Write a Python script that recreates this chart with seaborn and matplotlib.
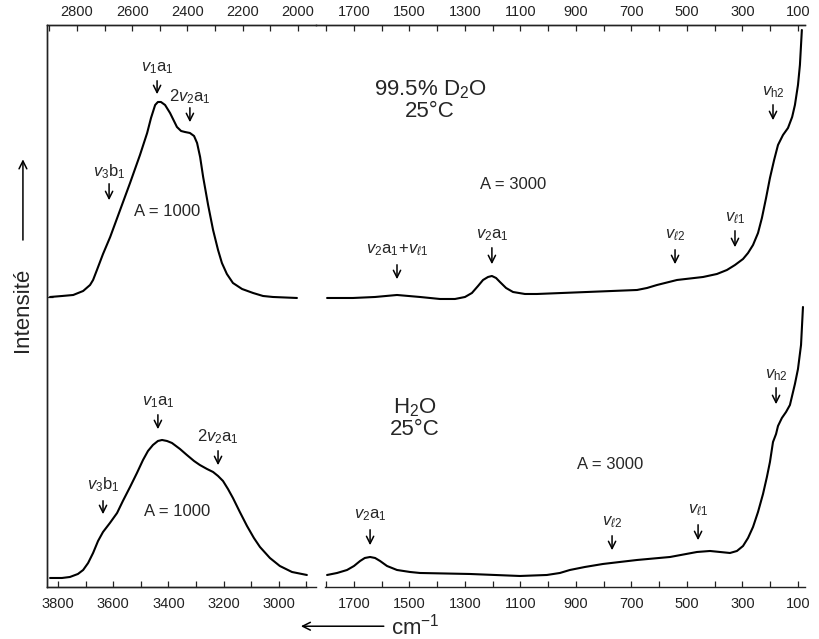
import matplotlib
matplotlib.use('Agg')
import matplotlib.pyplot as plt
import seaborn as sns

# D2O, high-frequency part (top scale, cm-1) and intensity (arb.)
d2o_hi_wn = [2898, 2854, 2814, 2778, 2753, 2742, 2728, 2706, 2680, 2644, 2608, 2572,
             2546, 2532, 2517, 2507, 2496, 2481, 2463, 2438, 2423, 2409, 2391, 2376,
             2365, 2354, 2343, 2325, 2307, 2289, 2275, 2257, 2235, 2202, 2162, 2126,
             2090, 2003]
d2o_hi_int = [290, 291, 292, 296, 302, 307, 317, 333, 350, 377, 404, 432,
              454, 469, 482, 485, 485, 482, 474, 460, 456, 455, 454, 451,
              444, 430, 410, 382, 357, 337, 324, 313, 304, 298, 294, 291,
              290, 289]

# D2O, low-frequency part
d2o_lo_wn = [1797, 1704, 1624, 1545, 1462, 1390, 1336, 1300, 1275, 1253, 1235, 1217,
             1203, 1188, 1174, 1152, 1127, 1084, 1041, 860, 680, 644, 608, 536,
             442, 392, 356, 327, 298, 280, 262, 244, 230, 215, 201, 186,
             172, 154, 136, 121, 111, 100, 93, 86]
d2o_lo_int = [289, 289, 290, 292, 290, 288, 288, 290, 294, 301, 307, 310,
              311, 309, 305, 299, 295, 293, 293, 295, 297, 299, 302, 307,
              310, 313, 317, 322, 328, 334, 342, 354, 369, 389, 409, 427,
              442, 452, 459, 470, 482, 502, 522, 557]

# H2O, high-frequency part (bottom scale)
h2o_hi_wn = [3829, 3786, 3757, 3728, 3709, 3691, 3673, 3655, 3637, 3612, 3586, 3565,
             3539, 3514, 3492, 3474, 3456, 3438, 3423, 3405, 3387, 3358, 3333, 3307,
             3286, 3260, 3238, 3220, 3202, 3184, 3166, 3141, 3115, 3090, 3068, 3032,
             2996, 2952, 2898]
h2o_hi_int = [9, 9, 10, 13, 17, 24, 34, 46, 55, 64, 74, 86,
              100, 114, 127, 136, 142, 146, 147, 146, 144, 138, 132, 126,
              122, 118, 115, 111, 106, 98, 89, 75, 61, 49, 40, 29,
              21, 15, 12]

# H2O, low-frequency part
h2o_lo_wn = [1797, 1761, 1725, 1700, 1678, 1661, 1642, 1624, 1606, 1581, 1545, 1498,
             1462, 1282, 1102, 1005, 958, 922, 868, 803, 742, 680, 561, 464,
             417, 381, 345, 320, 298, 280, 262, 244, 226, 212, 201, 190,
             179, 172, 158, 143, 129, 111, 100, 89, 82]
h2o_lo_int = [12, 14, 17, 21, 26, 29, 30, 29, 26, 21, 17, 15,
              14, 13, 11, 12, 14, 17, 20, 23, 25, 27, 30, 35,
              36, 35, 34, 36, 41, 49, 60, 75, 93, 110, 125, 145,
              153, 161, 169, 175, 182, 203, 218, 242, 280]

# band labels: (text, wavenumber, label height, arrow top, arrow bottom)
d2o_hi_bands = [(r'$v_1\mathrm{a}_1$', 2510, 519, 509, 490),
                (r'$2v_2\mathrm{a}_1$', 2391, 490, 482, 462),
                (r'$v_3\mathrm{b}_1$', 2684, 415, 406, 384)]
d2o_lo_bands = [(r'$v_2\mathrm{a}_1\!+\!v_{\ell 1}$', 1545, 337, 325, 305),
                (r'$v_2\mathrm{a}_1$', 1203, 352, 342, 320),
                (r'$v_{\ell 2}$', 543, 352, 340, 320),
                (r'$v_{\ell 1}$', 327, 369, 359, 337),
                (r'$v_{\mathrm{h}2}$', 190, 495, 485, 464)]
h2o_hi_bands = [(r'$v_1\mathrm{a}_1$', 3438, 185, 175, 155),
                (r'$2v_2\mathrm{a}_1$', 3220, 150, 139, 119),
                (r'$v_3\mathrm{b}_1$', 3637, 102, 89, 70)]
h2o_lo_bands = [(r'$v_2\mathrm{a}_1$', 1642, 72, 60, 39),
                (r'$v_{\ell 2}$', 770, 65, 54, 34),
                (r'$v_{\ell 1}$', 460, 77, 65, 44),
                (r'$v_{\mathrm{h}2}$', 179, 212, 202, 180)]

sns.set_style('ticks')
plt.rcParams['font.family'] = ['Liberation Sans', 'DejaVu Sans']
plt.rcParams['mathtext.fontset'] = 'custom'
plt.rcParams['mathtext.rm'] = 'Liberation Sans'
plt.rcParams['mathtext.it'] = 'Liberation Sans:italic'
plt.rcParams['mathtext.bf'] = 'Liberation Sans:bold'

fig = plt.figure(figsize=(8.19, 6.39), dpi=100)
ax_l = fig.add_axes([0.0574, 0.0814, 0.3284, 0.8795])
ax_r = fig.add_axes([0.3858, 0.0814, 0.5970, 0.8795])
ax_lt = ax_l.twiny()
ax_rt = ax_r.twiny()

line_kw = dict(color='black', linewidth=1.5, sort=False, estimator=None,
               solid_joinstyle='round', solid_capstyle='round')
sns.lineplot(x=h2o_hi_wn, y=h2o_hi_int, ax=ax_l, **line_kw)
sns.lineplot(x=d2o_hi_wn, y=d2o_hi_int, ax=ax_lt, **line_kw)
sns.lineplot(x=d2o_lo_wn, y=d2o_lo_int, ax=ax_r, **line_kw)
sns.lineplot(x=h2o_lo_wn, y=h2o_lo_int, ax=ax_r, **line_kw)

ax_l.set_xlim(3840, 2865)
ax_lt.set_xlim(2909, 1934)
ax_r.set_xlim(1837, 75)
ax_rt.set_xlim(1837, 75)
for a in (ax_l, ax_lt, ax_r, ax_rt):
    a.set_ylim(0, 562)

tick_kw = dict(direction='in', length=4, width=0.9, labelsize=10.5, colors='#222222')

# left panel: bottom scale 3800..2900, top scale 2900..2000
ax_l.set_xticks(range(3800, 2899, -100), minor=True)
ax_l.set_xticks(range(3800, 2899, -200))
ax_l.set_xticklabels([str(v) for v in range(3800, 2899, -200)])
ax_l.tick_params(axis='x', which='both', bottom=True, top=False, pad=7, **tick_kw)
ax_lt.set_xticks(range(2900, 1999, -100), minor=True)
ax_lt.set_xticks(range(2800, 1999, -200))
ax_lt.set_xticklabels([str(v) for v in range(2800, 1999, -200)])
ax_lt.tick_params(axis='x', which='both', top=True, bottom=False, pad=4, **tick_kw)
ax_l.set_yticks([290])
ax_l.set_yticklabels([])
ax_l.tick_params(axis='y', direction='in', length=4, width=0.9)

# right panel: both scales 1800..100
for a in (ax_r, ax_rt):
    a.set_xticks(range(1800, 99, -100), minor=True)
    a.set_xticks(range(1700, 99, -200))
    a.set_xticklabels([str(v) for v in range(1700, 99, -200)])
    a.set_yticks([])
ax_r.tick_params(axis='x', which='both', bottom=True, top=False, pad=7, **tick_kw)
ax_rt.tick_params(axis='x', which='both', top=True, bottom=False, pad=4, **tick_kw)

for a in (ax_l, ax_lt, ax_r, ax_rt):
    a.set_xlabel('')
    a.set_ylabel('')
    a.patch.set_alpha(0)
    for s in a.spines.values():
        s.set_linewidth(1.0)
        s.set_color('#222222')
for a in (ax_l, ax_lt):
    a.spines['right'].set_visible(False)
for a in (ax_r, ax_rt):
    a.spines['left'].set_visible(False)
    a.spines['right'].set_visible(False)
ax_l.spines['bottom'].set_bounds(3840, 2898)
ax_r.spines['bottom'].set_bounds(1804, 75)
ax_rt.spines['bottom'].set_visible(False)


def mark_bands(ax, bands):
    for label, wn, ty, a_top, a_bot in bands:
        ax.text(wn, ty, label, ha='center', va='center', fontsize=12)
        ax.annotate('', xy=(wn, a_bot), xytext=(wn, a_top),
                    arrowprops=dict(arrowstyle='->', color='black', lw=1.1,
                                    mutation_scale=13))


mark_bands(ax_lt, d2o_hi_bands)
mark_bands(ax_r, d2o_lo_bands)
mark_bands(ax_l, h2o_hi_bands)
mark_bands(ax_r, h2o_lo_bands)

ax_lt.text(2474, 375, 'A = 1000', ha='center', va='center', fontsize=12)
ax_l.text(3369, 75, 'A = 1000', ha='center', va='center', fontsize=12)
ax_r.text(1127, 402, 'A = 3000', ha='center', va='center', fontsize=12)
ax_r.text(777, 122, 'A = 3000', ha='center', va='center', fontsize=12)
ax_r.text(1426, 487, '99.5% D$_2$O\n25°C', ha='center', va='center', fontsize=16,
          linespacing=1.0)
ax_r.text(1480, 169, 'H$_2$O\n25°C', ha='center', va='center', fontsize=16,
          linespacing=1.0)

# axis titles with direction arrows
fig.text(0.028, 0.515, 'Intensité', rotation=90, ha='center', va='center', fontsize=16)
fig.add_artist(matplotlib.patches.FancyArrowPatch(
    (0.028, 0.62), (0.028, 0.755), transform=fig.transFigure,
    arrowstyle='->', mutation_scale=14, color='black', lw=1.1))
fig.text(0.478, 0.02, 'cm$^{-1}$', ha='left', va='center', fontsize=16)
fig.add_artist(matplotlib.patches.FancyArrowPatch(
    (0.472, 0.02), (0.364, 0.02), transform=fig.transFigure,
    arrowstyle='->', mutation_scale=14, color='black', lw=1.1))

fig.savefig('out.png', dpi=100)
